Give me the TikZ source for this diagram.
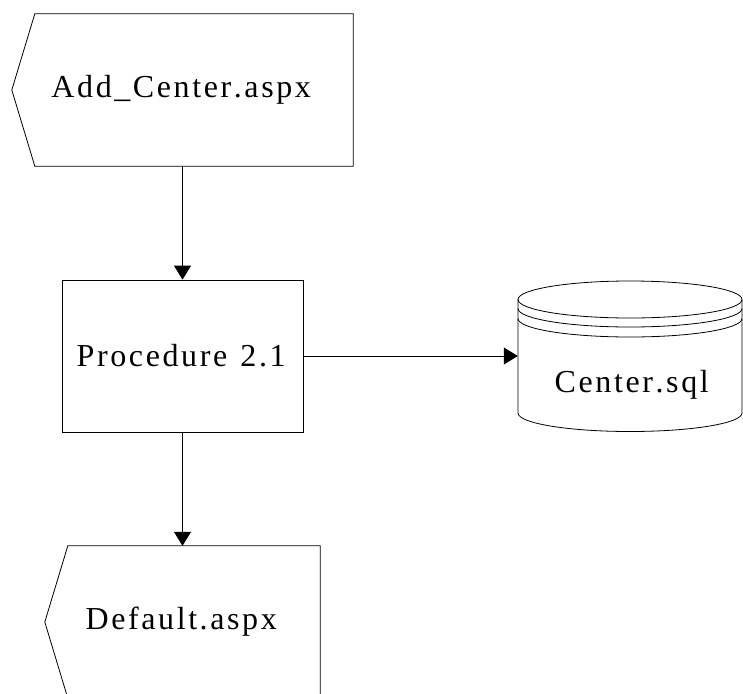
\documentclass[tikz,border=0pt]{standalone}
\usepackage{fontspec}
\setmainfont{Liberation Serif}
\usetikzlibrary{arrows.meta,positioning,calc}

% wide letter spacing of the labels
\def\flowend{\flowend}
\def\flowspaced#1{\flowloop#1\flowend}
\def\flowloop#1{\ifx#1\flowend\else#1\kern2.6pt\expandafter\flowloop\fi}

\tikzset{
	flowline/.style={line width=0.8pt, -{Triangle[length=14pt,width=17pt]}},
	flowtext/.style={font=\fontsize{32}{38}\selectfont},
	pagebox/.style={flowtext, minimum height=152pt, inner sep=0pt},
	procbox/.style={flowtext, draw, line width=0.8pt, minimum width=241pt, minimum height=152pt, inner sep=0pt},
	dbbox/.style={minimum width=224pt, minimum height=151pt, inner sep=0pt},
	outline/.style={line width=0.8pt}
}

% pointed page box drawn round a named node
\newcommand{\pageoutline}[1]{\draw[outline] ([xshift=23pt]#1.north west) -- (#1.north east) -- (#1.south east) -- ([xshift=23pt]#1.south west) -- (#1.west) -- cycle;}

\begin{document}
\begin{tikzpicture}[x=1pt, y=-1pt]
	\clip (0,0) rectangle (743,693);
	
	\node[pagebox, minimum width=341pt] (addcenter) at (182.5,90) {\flowspaced{Add\_Center.aspx}};
	\pageoutline{addcenter}
	
	\node[procbox] (proc) at (182.5,356) {\flowspaced{Procedure\ 2.1}};
	
	\node[pagebox, minimum width=275pt] (default) at (182.5,622) {\flowspaced{Default.aspx}};
	\pageoutline{default}
	
	% database
	\node[dbbox] (centerdb) at (630,356.5) {};
	\begin{scope}[shift={(centerdb.center)}]
		\draw[outline] (0,-57) ellipse [x radius=112pt, y radius=18.5pt];
		\draw[outline] (-112,-57) -- (-112,56.5) arc[start angle=180, end angle=360, x radius=112pt, y radius=18.5pt] -- (112,-57);
		\draw[outline] (-112,-48) arc[start angle=180, end angle=360, x radius=112pt, y radius=18.5pt];
		\draw[outline] (-112,-38) arc[start angle=180, end angle=360, x radius=112pt, y radius=18.5pt];
	\end{scope}
	\node[flowtext] (dblabel) at (633,385) {\flowspaced{Center.sql}};
	
	\draw[flowline] (addcenter.south) -- (proc.north);
	\draw[flowline] (proc.south) -- (default.north);
	\draw[flowline] (proc.east) -- (proc.east -| centerdb.west);
\end{tikzpicture}
\end{document}
